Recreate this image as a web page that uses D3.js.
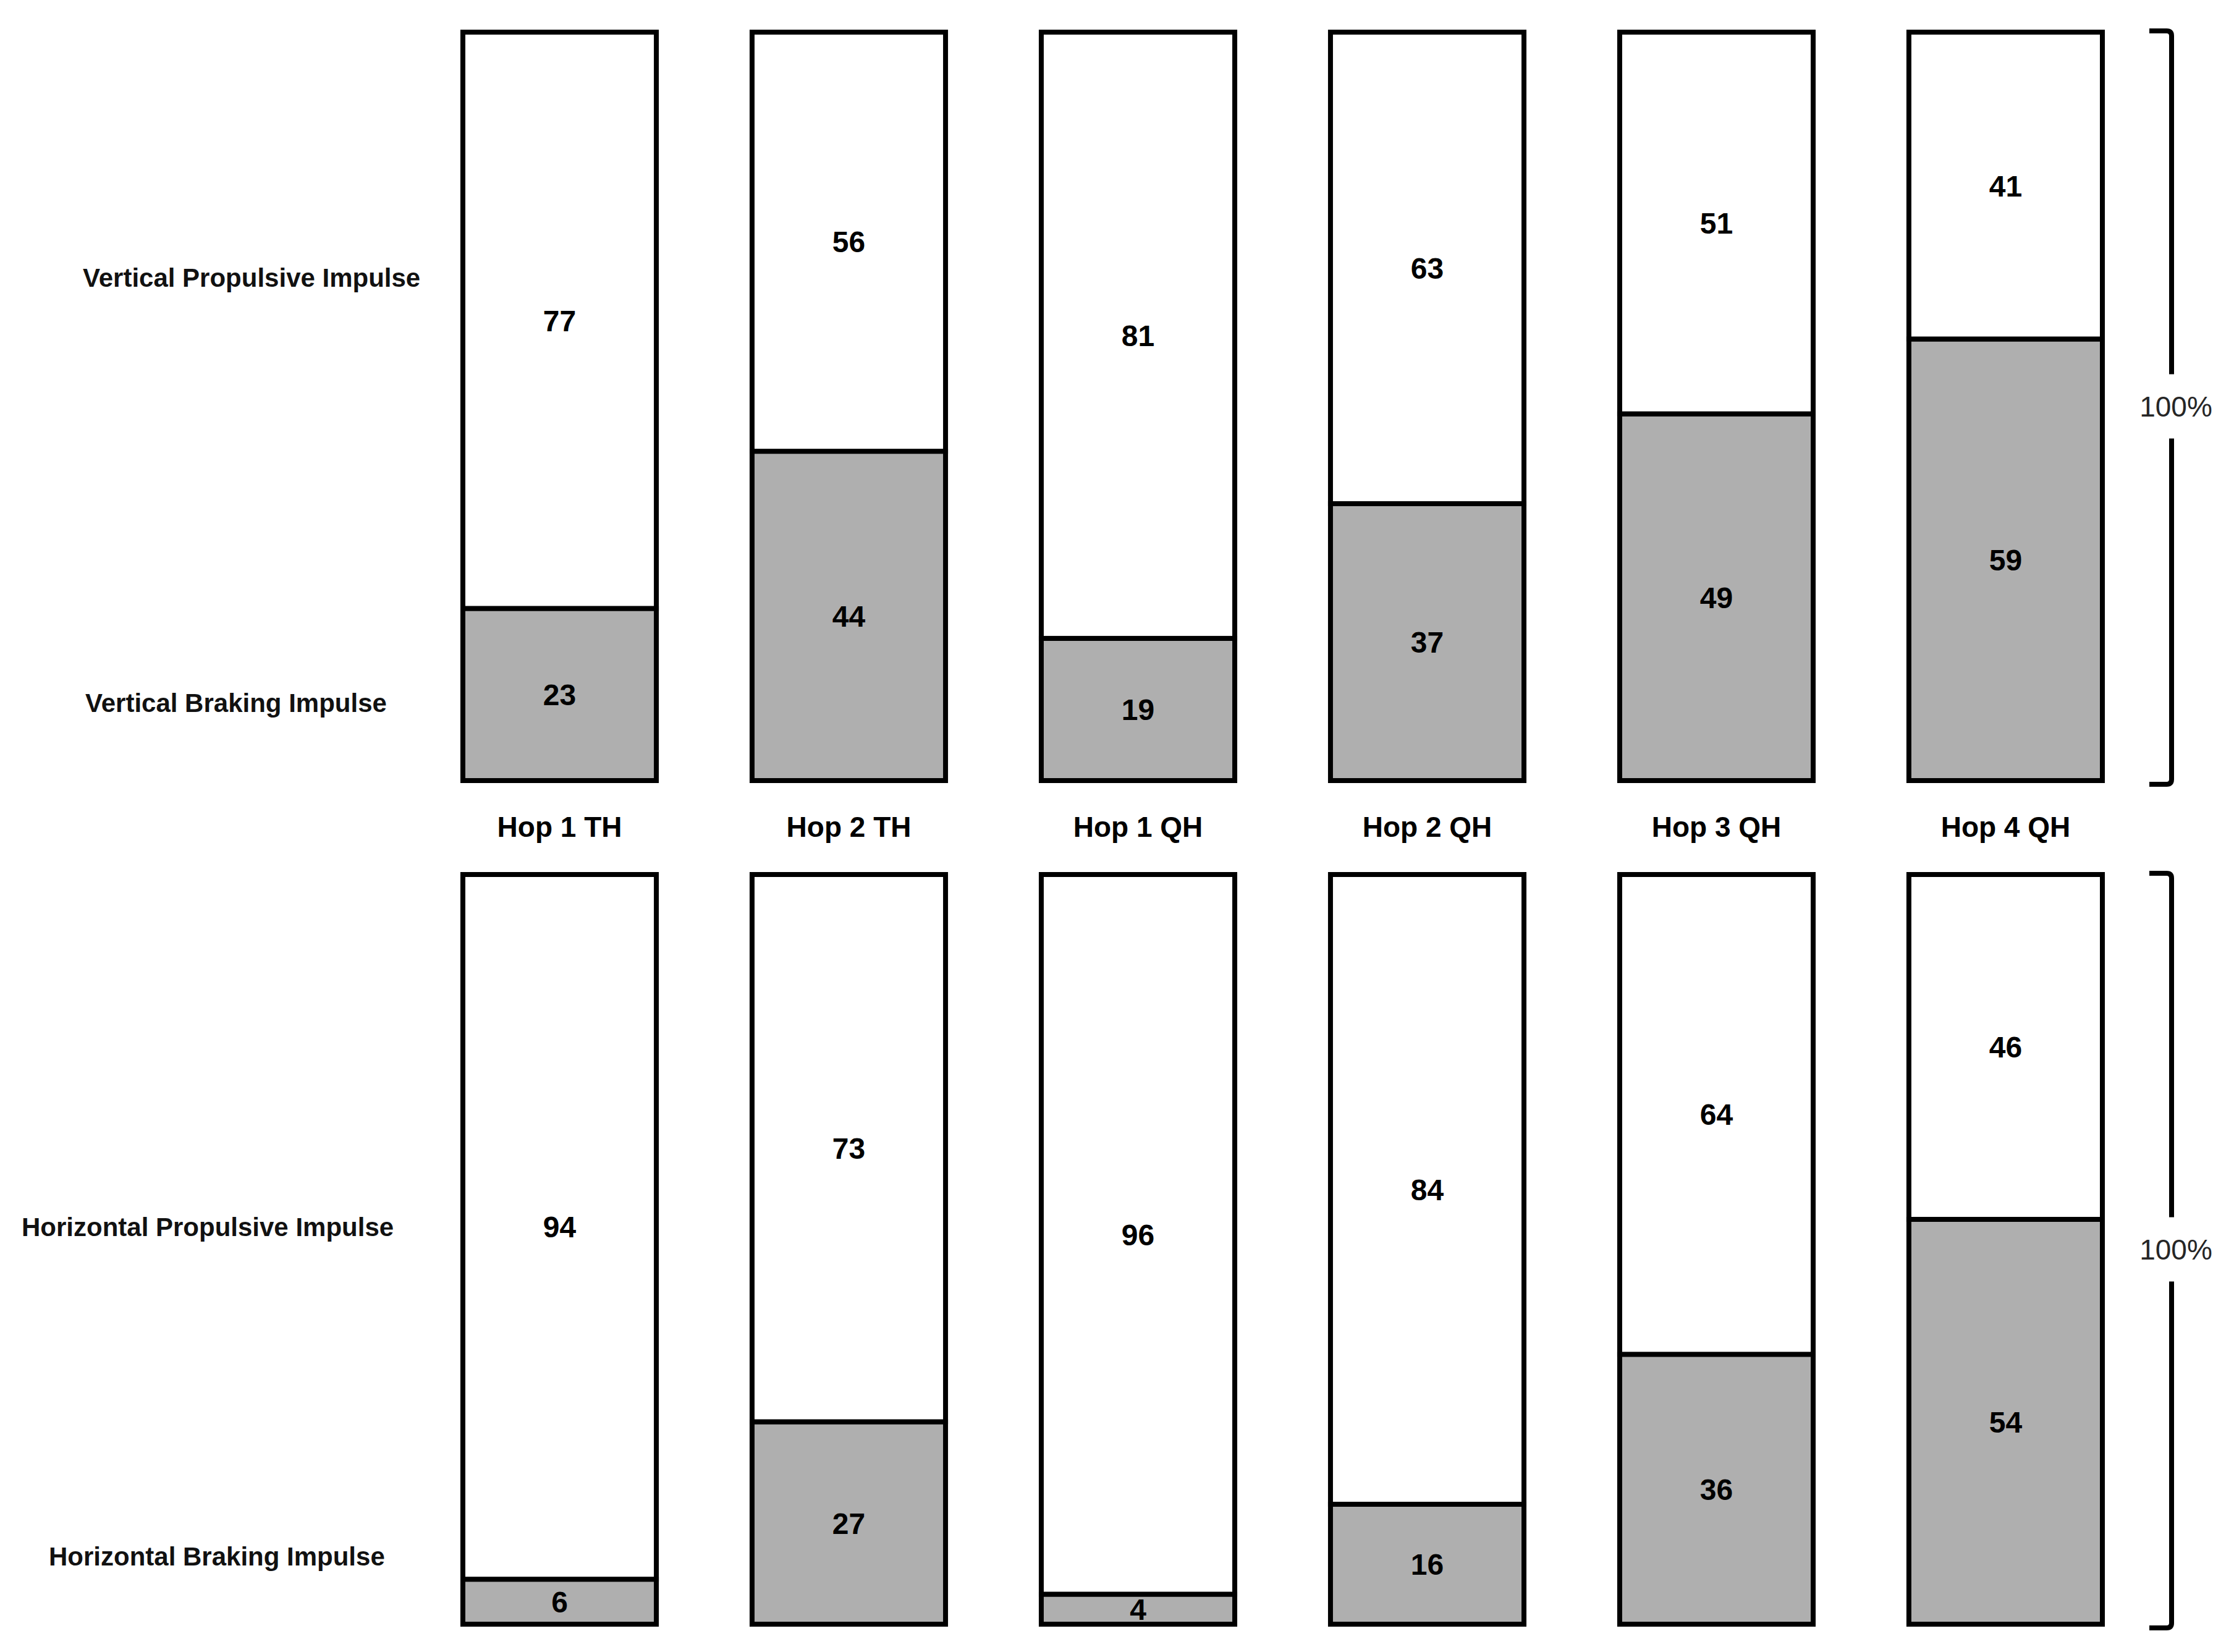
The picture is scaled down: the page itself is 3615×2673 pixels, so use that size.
<!DOCTYPE html>
<html>
<head>
<meta charset="utf-8">
<script src="https://cdn.jsdelivr.net/npm/d3@7"></script>
<style>
  body { margin: 0; background: #fff; }
  text { font-family: "Liberation Sans", Arial, sans-serif; }
</style>
</head>
<body>
<div id="chart"></div>
<script>
// hop categories and the two impulse splits (percent of each impulse)
var hops = ["Hop 1 TH", "Hop 2 TH", "Hop 1 QH", "Hop 2 QH", "Hop 3 QH", "Hop 4 QH"];
var vertBraking = [23, 44, 19, 37, 49, 59];
var vertPropulsive = [77, 56, 81, 63, 51, 41];
var horizBraking = [6, 27, 4, 16, 36, 54];
var horizPropulsive = [94, 73, 96, 84, 64, 46];
var rowLabels = ["Vertical Propulsive Impulse", "Vertical Braking Impulse",
                 "Horizontal Propulsive Impulse", "Horizontal Braking Impulse"];
var totalLabel = "100%";

var width = 3615, height = 2673;

var svg = d3.select("#chart").append("svg")
    .attr("width", width)
    .attr("height", height)
    .style("background", "#fff");

var x = d3.scaleBand()
    .domain(hops)
    .range([749, 3402])
    .paddingInner(0.331)
    .paddingOuter(0);

var panels = [
    { braking: vertBraking, propulsive: vertPropulsive, top: 52, bottom: 1263 },
    { braking: horizBraking, propulsive: horizPropulsive, top: 1415, bottom: 2628 }
];

var stack = d3.stack().keys(["braking", "propulsive"]);
var fills = { braking: "#afafaf", propulsive: "#ffffff" };

panels.forEach(function(p){
    var y = d3.scaleLinear().domain([0, 100]).range([p.bottom, p.top]);
    var rows = hops.map(function(h, i){
        return { hop: h, braking: p.braking[i], propulsive: p.propulsive[i] };
    });
    var series = stack(rows);

    var g = svg.append("g").attr("class", "panel");

    var layer = g.selectAll("g.layer")
        .data(series)
        .enter()
        .append("g")
        .attr("class", "layer");

    layer.selectAll("rect")
        .data(function(s){ return s.map(function(d){ d.key = s.key; return d; }); })
        .enter()
        .append("rect")
        .attr("x", function(d){ return x(d.data.hop); })
        .attr("y", function(d){ return y(d[1]); })
        .attr("width", x.bandwidth())
        .attr("height", function(d){ return y(d[0]) - y(d[1]); })
        .attr("fill", function(d){ return fills[d.key]; })
        .attr("stroke", "#000")
        .attr("stroke-width", 8);

    layer.selectAll("text")
        .data(function(s){ return s; })
        .enter()
        .append("text")
        .attr("x", function(d){ return x(d.data.hop) + x.bandwidth() / 2; })
        .attr("y", function(d){ return (y(d[0]) + y(d[1])) / 2; })
        .attr("dy", "0.36em")
        .attr("text-anchor", "middle")
        .attr("font-size", 48)
        .attr("font-weight", "bold")
        .attr("fill", "#000")
        .text(function(d){ return d[1] - d[0]; });

    // right-hand bracket with the 100% label
    var bx = x.range()[1] + 112;
    var mid = (p.top + p.bottom) / 2;
    var gap = 52;
    var b = svg.append("g").attr("class", "bracket")
        .attr("fill", "none")
        .attr("stroke", "#000")
        .attr("stroke-width", 8);
    b.append("path")
        .attr("d", "M" + (bx - 36) + "," + (p.top - 2) + " H" + (bx - 8) +
                   " Q" + bx + "," + (p.top - 2) + " " + bx + "," + (p.top + 6) +
                   " V" + (mid - gap));
    b.append("path")
        .attr("d", "M" + bx + "," + (mid + gap) + " V" + (p.bottom - 2) +
                   " Q" + bx + "," + (p.bottom + 6) + " " + (bx - 8) + "," + (p.bottom + 6) +
                   " H" + (bx - 36));
    svg.append("text")
        .attr("x", bx + 7)
        .attr("y", mid)
        .attr("dy", "0.36em")
        .attr("text-anchor", "middle")
        .attr("font-size", 46)
        .attr("fill", "#262626")
        .text(totalLabel);
});

// hop labels between the panels
svg.append("g")
    .selectAll("text")
    .data(hops)
    .enter()
    .append("text")
    .attr("x", function(d){ return x(d) + x.bandwidth() / 2; })
    .attr("y", 1354)
    .attr("text-anchor", "middle")
    .attr("font-size", 46)
    .attr("font-weight", "bold")
    .attr("fill", "#000")
    .text(function(d){ return d; });

// row labels on the left
var labelPos = [[134, 464], [138, 1152], [35, 2000], [79, 2533]];
svg.append("g")
    .selectAll("text")
    .data(rowLabels)
    .enter()
    .append("text")
    .attr("x", function(d, i){ return labelPos[i][0]; })
    .attr("y", function(d, i){ return labelPos[i][1]; })
    .attr("font-size", 42)
    .attr("font-weight", "bold")
    .attr("fill", "#111")
    .text(function(d){ return d; });
</script>
</body>
</html>
